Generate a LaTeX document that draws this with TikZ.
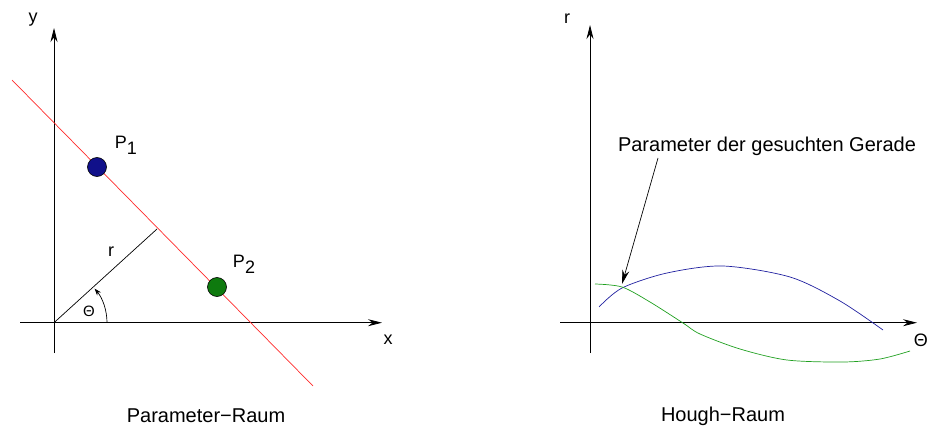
\documentclass[tikz,border=0pt]{standalone}
\usepackage{fontspec}
\setmainfont{Liberation Sans}
\usepackage{xcolor}
\usetikzlibrary{arrows.meta,positioning,calc}
\definecolor{lred}{HTML}{FF2A2A}
\definecolor{dblue}{HTML}{10108A}
\definecolor{cblue}{HTML}{2020A0}
\definecolor{dgreen}{HTML}{0E7A0E}
\definecolor{cgreen}{HTML}{20A020}
\tikzset{
  axis/.style={line width=0.8pt,-{Stealth[length=14pt,width=7pt]}},
  dot/.style={circle,draw=black,line width=0.6pt,minimum size=19pt,inner sep=0pt},
  lbl/.style={font=\fontsize{18}{20}\selectfont,inner sep=1pt},
  title/.style={font=\fontsize{20}{22}\selectfont,inner sep=1pt}
}

\begin{document}
\begin{tikzpicture}[x=1pt,y=-1pt]
      \useasboundingbox (0,0) rectangle (929,428);
      % Parameter-Raum
      \coordinate (o) at (54,322.7);
      \coordinate (xs) at (20,322.7);
      \coordinate (xe) at (382,322.7);
      \coordinate (ys) at (54,353);
      \coordinate (ye) at (54,28);
      \draw[axis] (xs) -- (xe);
      \draw[axis] (ys) -- (ye);
      \node[lbl] (ylab) at (33,20) {y};
      \node[lbl] (xlab) at (388,340) {x};
      \coordinate (ga) at (12,80);
      \coordinate (gb) at (313,386);
      \draw[lred,line width=0.7pt] (ga) -- (gb);
      \coordinate (foot) at (157,229);
      \draw[line width=0.7pt] (o) -- (foot);
      \node[lbl] (rlab) at (111,252) {r};
      \draw[line width=0.7pt,-{Stealth[length=7pt,width=5pt]}]
        ($(o)+(53,0)$) arc[start angle=0,end angle=-40,radius=53];
      \node[font=\fontsize{15}{16}\selectfont] (theta) at (89,311) {Θ};
      \node[dot,fill=dblue] (p1) at (97,167) {};
      \node[dot,fill=dgreen] (p2) at (217,287) {};
      \node[lbl] (p1lab) at (126,145) {P\raisebox{-0.6ex}{1}};
      \node[lbl] (p2lab) at (244,264) {P\raisebox{-0.6ex}{2}};
      \node[title] (praum) at (206,416) {Parameter−Raum};
      % Hough-Raum
      \coordinate (ts) at (560,322.7);
      \coordinate (te) at (917,322.7);
      \coordinate (rs) at (590,353);
      \coordinate (re) at (590,25);
      \draw[axis] (ts) -- (te);
      \draw[axis] (rs) -- (re);
      \node[lbl] (rax) at (567,19) {r};
      \node[lbl,anchor=east] (tax) at (929,340) {Θ};
      \draw[cblue,line width=0.7pt] plot[smooth] coordinates
        {(599,307) (622,288) (667,273) (723,266) (790,277) (840,301) (883,330)};
      \draw[cgreen,line width=0.7pt] plot[smooth] coordinates
        {(595,284) (622,287) (650,302) (683,323) (700,334) (740,349) (787,360) (843,362) (880,359) (910,351)};
      \node[title] (anno) at (767,146) {Parameter der gesuchten Gerade};
      \coordinate (hit) at (622,284);
      \draw[line width=0.7pt,-{Stealth[length=14pt,width=7pt]}] (658,158) -- (hit);
      \node[title] (hraum) at (723,416) {Hough−Raum};
    \end{tikzpicture}
\end{document}
